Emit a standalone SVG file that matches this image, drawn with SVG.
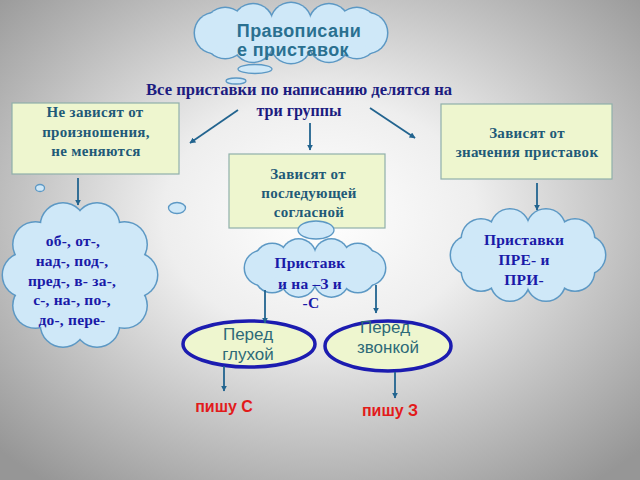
<svg xmlns="http://www.w3.org/2000/svg" width="640" height="480" viewBox="0 0 640 480">
<defs>
<radialGradient id="bg" cx="50%" cy="45%" r="70%">
<stop offset="0" stop-color="#ffffff"/>
<stop offset="0.35" stop-color="#eeeeee"/>
<stop offset="1" stop-color="#969696"/>
</radialGradient>
<marker id="ah" viewBox="0 0 10 10" refX="9" refY="5" markerWidth="6" markerHeight="6" orient="auto" markerUnits="userSpaceOnUse">
<path d="M0,0 L10,5 L0,10 z" fill="#22648f"/>
</marker>
<style>
.cs circle,.cs ellipse{fill:#5c98c4;}
.cf circle,.cf ellipse{fill:#cfe8f8;}
.box{fill:#eef6cf;stroke:#8fb0aa;stroke-width:1.2;}
.bubble{fill:#cfe8f8;stroke:#5c98c4;stroke-width:1.3;}
.oval{fill:#eef6cf;stroke:#1c1cb0;stroke-width:3.5;}
.ser{font-family:"Liberation Serif","DejaVu Serif",serif;font-weight:bold;text-anchor:middle;}
.san{font-family:"Liberation Sans","DejaVu Sans",sans-serif;text-anchor:middle;}
.boxt{fill:#1f5a78;font-size:15px;letter-spacing:0.3px;}
.cldt{fill:#1a1aa8;font-size:15.5px;letter-spacing:0.2px;}
.conn line{stroke:#22648f;stroke-width:1.8;marker-end:url(#ah);}
</style>
</defs>
<rect width="640" height="480" fill="url(#bg)"/>

<g id="title">
<g class="cs">
<ellipse cx="291" cy="33" rx="77.5" ry="11.5"/>
<circle cx="367" cy="33" r="21.5"/><circle cx="356.8" cy="38" r="21.5"/><circle cx="329" cy="41.7" r="21.5"/><circle cx="291" cy="43" r="21.5"/><circle cx="253" cy="41.7" r="21.5"/><circle cx="225.2" cy="38" r="21.5"/><circle cx="215" cy="33" r="21.5"/><circle cx="225.2" cy="28" r="21.5"/><circle cx="253" cy="24.3" r="21.5"/><circle cx="291" cy="23" r="21.5"/><circle cx="329" cy="24.3" r="21.5"/><circle cx="356.8" cy="28" r="21.5"/>
</g>
<g class="cf">
<ellipse cx="291" cy="33" rx="76" ry="10"/>
<circle cx="367" cy="33" r="20"/><circle cx="356.8" cy="38" r="20"/><circle cx="329" cy="41.7" r="20"/><circle cx="291" cy="43" r="20"/><circle cx="253" cy="41.7" r="20"/><circle cx="225.2" cy="38" r="20"/><circle cx="215" cy="33" r="20"/><circle cx="225.2" cy="28" r="20"/><circle cx="253" cy="24.3" r="20"/><circle cx="291" cy="23" r="20"/><circle cx="329" cy="24.3" r="20"/><circle cx="356.8" cy="28" r="20"/>
</g>
<text class="san" x="299" y="37" font-size="18" fill="#2a7090" font-weight="bold" letter-spacing="0.4">Правописани</text>
<text class="san" x="293" y="56" font-size="18" fill="#2a7090" font-weight="bold" letter-spacing="0.4">е приставок</text>
<ellipse class="bubble" cx="255" cy="69" rx="17" ry="4.5"/>
<ellipse class="bubble" cx="236" cy="81" rx="10" ry="3"/>
</g>

<g id="header">
<text class="ser" x="299" y="95" font-size="16" fill="#1c1c80" textLength="306" lengthAdjust="spacingAndGlyphs">Все приставки по написанию делятся на</text>
<text class="ser" x="299" y="116" font-size="16" fill="#1c1c80">три группы</text>
</g>

<g id="box-left">
<rect class="box" x="12" y="103" width="167" height="71"/>
<text class="ser boxt" x="95" y="117">Не зависят  от</text>
<text class="ser boxt" x="96" y="137">произношения,</text>
<text class="ser boxt" x="96" y="156">не меняются</text>
</g>

<g id="box-mid">
<rect class="box" x="229" y="154" width="156" height="74"/>
<text class="ser boxt" x="308" y="179">Зависят от</text>
<text class="ser boxt" x="309" y="198">последующей</text>
<text class="ser boxt" x="309" y="217">согласной</text>
<ellipse class="bubble" cx="316" cy="230" rx="18" ry="9"/>
</g>

<g id="box-right">
<rect class="box" x="441" y="104" width="171" height="75"/>
<text class="ser boxt" x="527" y="138">Зависят от</text>
<text class="ser boxt" x="527" y="157">значения приставок</text>
</g>

<g id="bubbles">
<ellipse class="bubble" cx="40" cy="188" rx="4.5" ry="3.5"/>
<ellipse class="bubble" cx="177" cy="208" rx="8.5" ry="5.5"/>
</g>

<g id="cloud-left">
<g class="cs">
<ellipse cx="80" cy="275" rx="56.5" ry="53.5"/>
<circle cx="135" cy="275" r="23.5"/><circle cx="124.5" cy="305.6" r="23.5"/><circle cx="97" cy="324.5" r="23.5"/><circle cx="63" cy="324.5" r="23.5"/><circle cx="35.5" cy="305.6" r="23.5"/><circle cx="25" cy="275" r="23.5"/><circle cx="35.5" cy="244.4" r="23.5"/><circle cx="63" cy="225.5" r="23.5"/><circle cx="97" cy="225.5" r="23.5"/><circle cx="124.5" cy="244.4" r="23.5"/>
</g>
<g class="cf">
<ellipse cx="80" cy="275" rx="55" ry="52"/>
<circle cx="135" cy="275" r="22"/><circle cx="124.5" cy="305.6" r="22"/><circle cx="97" cy="324.5" r="22"/><circle cx="63" cy="324.5" r="22"/><circle cx="35.5" cy="305.6" r="22"/><circle cx="25" cy="275" r="22"/><circle cx="35.5" cy="244.4" r="22"/><circle cx="63" cy="225.5" r="22"/><circle cx="97" cy="225.5" r="22"/><circle cx="124.5" cy="244.4" r="22"/>
</g>
<text class="ser cldt" x="73" y="246">об-, от-,</text>
<text class="ser cldt" x="72" y="266">над-, под-,</text>
<text class="ser cldt" x="72" y="286">пред-, в- за-,</text>
<text class="ser cldt" x="72" y="305">с-, на-, по-,</text>
<text class="ser cldt" x="72" y="325">до-, пере-</text>
</g>

<g id="cloud-mid">
<g class="cs">
<ellipse cx="315" cy="268" rx="54.5" ry="13.5"/>
<circle cx="368" cy="268" r="18.5"/><circle cx="357.9" cy="275.1" r="18.5"/><circle cx="331.4" cy="279.4" r="18.5"/><circle cx="298.6" cy="279.4" r="18.5"/><circle cx="272.1" cy="275.1" r="18.5"/><circle cx="262" cy="268" r="18.5"/><circle cx="272.1" cy="260.9" r="18.5"/><circle cx="298.6" cy="256.6" r="18.5"/><circle cx="331.4" cy="256.6" r="18.5"/><circle cx="357.9" cy="260.9" r="18.5"/>
</g>
<g class="cf">
<ellipse cx="315" cy="268" rx="53" ry="12"/>
<circle cx="368" cy="268" r="17"/><circle cx="357.9" cy="275.1" r="17"/><circle cx="331.4" cy="279.4" r="17"/><circle cx="298.6" cy="279.4" r="17"/><circle cx="272.1" cy="275.1" r="17"/><circle cx="262" cy="268" r="17"/><circle cx="272.1" cy="260.9" r="17"/><circle cx="298.6" cy="256.6" r="17"/><circle cx="331.4" cy="256.6" r="17"/><circle cx="357.9" cy="260.9" r="17"/>
</g>
<text class="ser cldt" x="310" y="268">Приставк</text>
<text class="ser cldt" x="310" y="289">и на –З и</text>
<text class="ser cldt" x="311" y="308">-С</text>
</g>

<g id="cloud-right">
<g class="cs">
<ellipse cx="528" cy="255" rx="59.5" ry="29.5"/>
<circle cx="586" cy="255" r="20.5"/><circle cx="575" cy="271.5" r="20.5"/><circle cx="546" cy="281.6" r="20.5"/><circle cx="510" cy="281.6" r="20.5"/><circle cx="481" cy="271.5" r="20.5"/><circle cx="470" cy="255" r="20.5"/><circle cx="481" cy="238.5" r="20.5"/><circle cx="510" cy="228.4" r="20.5"/><circle cx="546" cy="228.4" r="20.5"/><circle cx="575" cy="238.5" r="20.5"/>
</g>
<g class="cf">
<ellipse cx="528" cy="255" rx="58" ry="28"/>
<circle cx="586" cy="255" r="19"/><circle cx="575" cy="271.5" r="19"/><circle cx="546" cy="281.6" r="19"/><circle cx="510" cy="281.6" r="19"/><circle cx="481" cy="271.5" r="19"/><circle cx="470" cy="255" r="19"/><circle cx="481" cy="238.5" r="19"/><circle cx="510" cy="228.4" r="19"/><circle cx="546" cy="228.4" r="19"/><circle cx="575" cy="238.5" r="19"/>
</g>
<text class="ser cldt" x="524" y="245">Приставки</text>
<text class="ser cldt" x="524" y="265">ПРЕ- и</text>
<text class="ser cldt" x="524" y="285">ПРИ-</text>
</g>

<g id="oval-left">
<ellipse class="oval" cx="249" cy="344" rx="66" ry="23"/>
<text class="san" x="248" y="340" font-size="17" fill="#2d6a78">Перед</text>
<text class="san" x="248" y="360" font-size="17" fill="#2d6a78">глухой</text>
</g>

<g id="oval-right">
<ellipse class="oval" cx="388" cy="346" rx="63" ry="25"/>
<text class="san" x="385" y="333" font-size="17" fill="#2d6a78">Перед</text>
<text class="san" x="388" y="353" font-size="17" fill="#2d6a78">звонкой</text>
</g>

<g id="result-s">
<text class="san" x="224" y="412" font-size="16" font-weight="bold" fill="#e21b1b">пишу С</text>
</g>
<g id="result-z">
<text class="san" x="390" y="416" font-size="16" font-weight="bold" fill="#e21b1b">пишу З</text>
</g>

<g id="connectors" class="conn">
<line x1="238" y1="110" x2="190" y2="143"/>
<line x1="310" y1="123" x2="310" y2="150"/>
<line x1="370" y1="108" x2="415" y2="138"/>
<line x1="78" y1="178" x2="78" y2="205"/>
<line x1="537" y1="183" x2="537" y2="210"/>
<line x1="265" y1="290" x2="265" y2="323"/>
<line x1="376" y1="285" x2="376" y2="313"/>
<line x1="224" y1="366" x2="224" y2="391"/>
<line x1="395" y1="372" x2="395" y2="398"/>
</g>
</svg>
